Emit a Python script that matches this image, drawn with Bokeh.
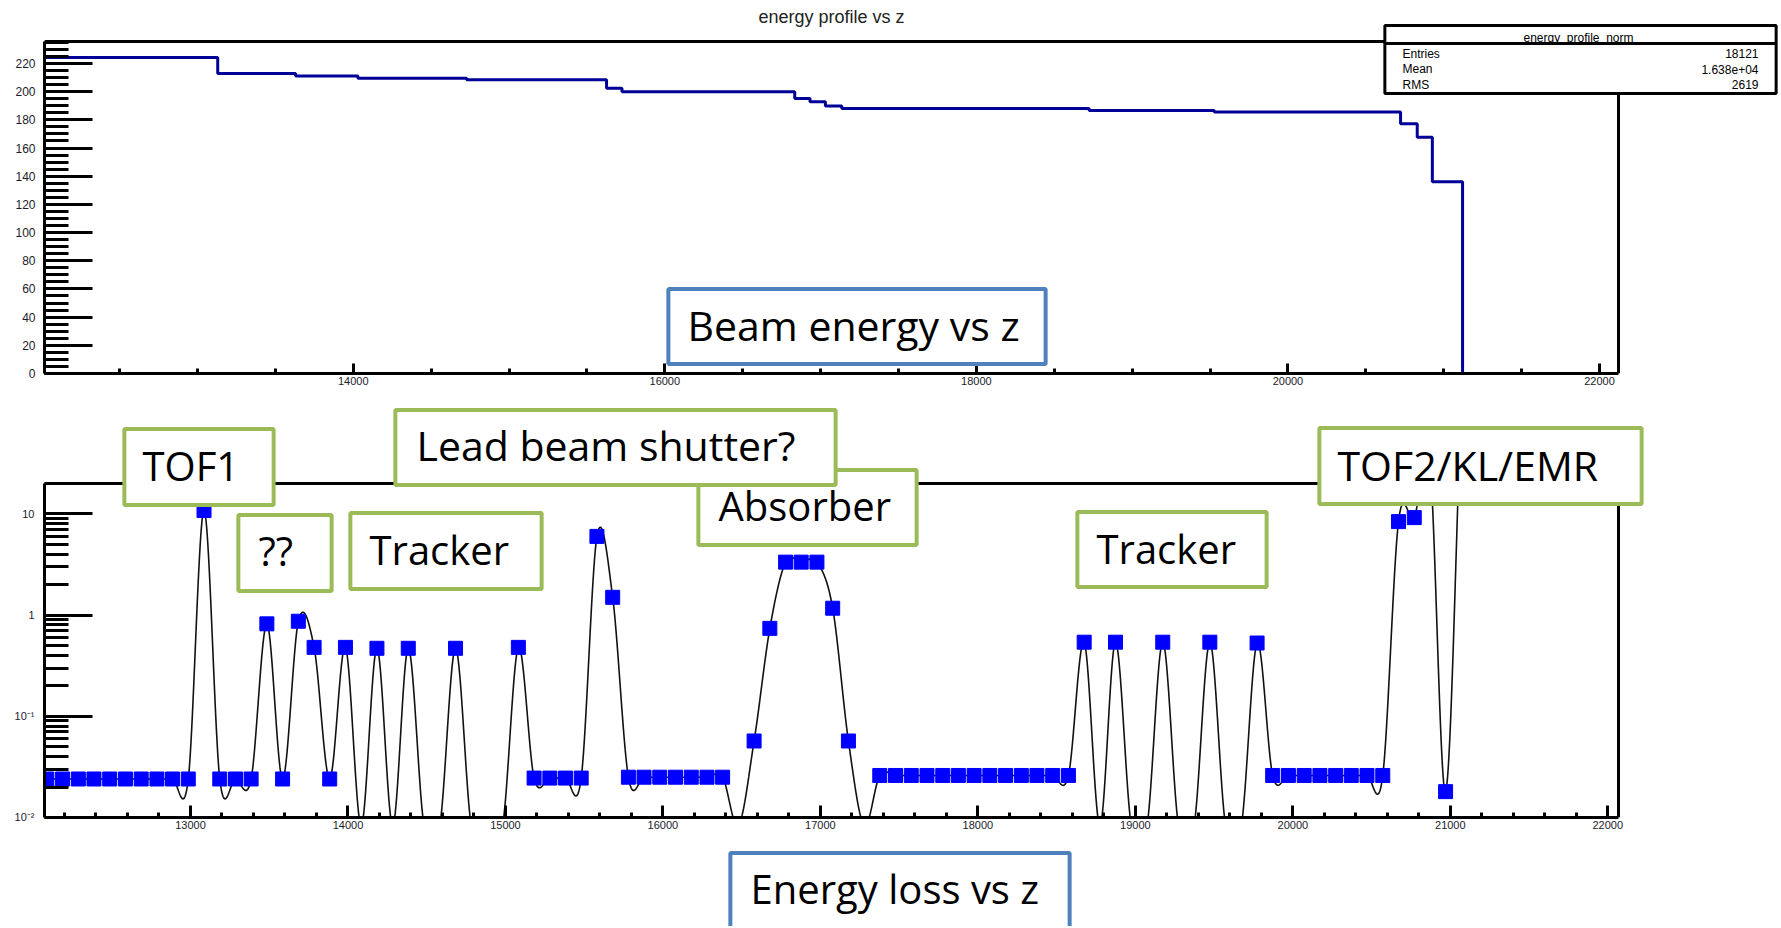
import numpy as np
from bokeh.plotting import figure
from bokeh.models import Range1d, SingleIntervalTicker, FixedTicker, Label
from bokeh.layouts import column
from bokeh.embed import file_html
from bokeh.resources import INLINE

# ---------------- data: top panel (energy profile histogram) ----------------
bin_edges = [12018, 13130, 13630, 14030, 14728, 15626, 15725, 16834, 16932, 17031,
             17136, 18724, 19527, 20723, 20830, 20927, 21121]
energy_levels = [224.3, 212.9, 211.2, 209.6, 208.4, 202.4, 200.0, 195.2, 192.9, 189.8,
                 188.1, 186.7, 185.5, 177.2, 167.7, 136.0, 0.0]
stats_names = ["Entries", "Mean", "RMS"]
stats_values = ["18121", "1.638e+04", "2619"]

# ---------------- data: bottom panel (energy loss per step) ----------------
z_points = [12088, 12188, 12288, 12387, 12487, 12587, 12687, 12787, 12886, 12986,
            13086, 13186, 13286, 13385, 13485, 13585, 13685, 13785, 13884, 13984,
            14084, 14184, 14284, 14383, 14483, 14583, 14683, 14783, 14882, 14982,
            15082, 15182, 15282, 15381, 15481, 15581, 15681, 15781, 15880, 15980,
            16080, 16180, 16280, 16379, 16479, 16579, 16679, 16779, 16878, 16978,
            17078, 17178, 17278, 17377, 17477, 17577, 17677, 17777, 17876, 17976,
            18076, 18176, 18276, 18375, 18475, 18575, 18675, 18775, 18874, 18974,
            19074, 19174, 19274, 19373, 19473, 19573, 19673, 19773, 19872, 19972,
            20072, 20172, 20272, 20371, 20471, 20571, 20671, 20771, 20870, 20970,
            21070]
de_values = [0.024, 0.024, 0.024, 0.024, 0.024, 0.024, 0.024, 0.024, 0.024, 0.024,
             10.8, 0.024, 0.024, 0.024, 0.82, 0.024, 0.87, 0.48, 0.024, 0.48,
             0, 0.47, 0, 0.47, 0, 0, 0.47, 0, 0, 0,
             0.48, 0.0245, 0.0245, 0.0245, 0.0245, 6.0, 1.5, 0.025, 0.025, 0.025,
             0.025, 0.025, 0.025, 0.025, 0, 0.057, 0.74, 3.34, 3.34, 3.34,
             1.17, 0.057, 0, 0.026, 0.026, 0.026, 0.026, 0.026, 0.026, 0.026,
             0.026, 0.026, 0.026, 0.026, 0.026, 0.026, 0.54, 0, 0.54, 0,
             0, 0.54, 0, 0, 0.54, 0, 0, 0.53, 0.026, 0.026,
             0.026, 0.026, 0.026, 0.026, 0.026, 0.026, 8.4, 9.2, 32.0, 0.018,
             135.0]
decade_ticks = [0.01, 0.1, 1, 10]
decade_labels = ["10\u207b\u00b2", "10\u207b\u00b9", "1", "10"]

# ---------------- layout constants (page pixels) ----------------
W = 1781
H_TOP, H_BOT, H_CAP = 400, 440, 86
FL = 44            # left edge of both plot frames
FR = 1618          # right edge of the drawn plot frames
TOP_T, TOP_B = 41, 373
BOT_T, BOT_B = 483, 817
TOP_X = (12018, 22122)
TOP_Y = (0.0, 235.6)
BOT_X = (12073, 22068)
BOT_Y = (0.00999, 20.0)
ROOT_FONT = "Liberation Sans"
BOX_FONT = "Open Sans"
GREEN = "#9BBB59"
BLUE = "#4F81BD"
TICK_COLOR = "#1b1b2b"


def style_axis(ax, major_in, minor_in, label_size, standoff, bounds):
    ax.bounds = bounds
    ax.axis_line_width = 3
    ax.axis_line_color = "black"
    ax.major_tick_in = major_in
    ax.major_tick_out = 0
    ax.minor_tick_in = minor_in
    ax.minor_tick_out = 0
    ax.major_tick_line_width = 3
    ax.minor_tick_line_width = 3
    ax.major_tick_line_color = "black"
    ax.minor_tick_line_color = "black"
    ax.major_label_text_font = ROOT_FONT
    ax.major_label_text_font_size = label_size
    ax.major_label_text_color = TICK_COLOR
    ax.major_label_standoff = standoff


def plain(p):
    p.grid.visible = False
    p.outline_line_color = None
    p.background_fill_color = "white"
    p.border_fill_color = "white"


def add_box(p, org, x0, x1, y0, y1, color, bw):
    fx, fb = org
    w = int(round(x1 - x0 - bw))
    h = int(round(y1 - y0 - bw))
    p.add_layout(Label(x=(x0 + x1) / 2 - fx, y=fb - (y0 + y1) / 2,
                       x_units="screen", y_units="screen", text=" ", text_font_size="1px",
                       text_align="center", text_baseline="middle",
                       background_fill_color="white", border_line_color=color,
                       border_line_width=bw,
                       padding=dict(left=w // 2, right=w - w // 2, top=h // 2, bottom=h - h // 2)))


def add_text(p, org, x, y, text, size, font, align="left", color="black"):
    fx, fb = org
    k = 0.42 if font == BOX_FONT else 0.33
    p.add_layout(Label(x=x - fx, y=fb - y + k * size, x_units="screen", y_units="screen",
                       text=text, text_font=font, text_font_size=f"{size}px", text_align=align,
                       text_baseline="alphabetic", text_color=color))


# ---------------- top figure ----------------
tpx = (FR - FL) / (TOP_X[1] - TOP_X[0])
tpy = (TOP_B - TOP_T) / (TOP_Y[1] - TOP_Y[0])
top_border_top = 2
top = figure(width=W, height=H_TOP, output_backend="svg", toolbar_location=None,
             x_range=Range1d(TOP_X[0], TOP_X[0] + (W - FL) / tpx),
             y_range=Range1d(TOP_Y[0], TOP_Y[1] + (TOP_T - top_border_top) / tpy),
             min_border_left=FL, min_border_right=0, min_border_top=top_border_top,
             min_border_bottom=H_TOP - TOP_B)
plain(top)
top.below[0].ticker = SingleIntervalTicker(interval=2000, num_minor_ticks=4)
top.left[0].ticker = SingleIntervalTicker(interval=20, num_minor_ticks=4)
style_axis(top.below[0], 10, 5, "11px", 3, TOP_X)
style_axis(top.left[0], 48, 24, "12px", 9, TOP_Y)
# frame (top and right edges)
top.line([TOP_X[0], TOP_X[1], TOP_X[1]], [TOP_Y[1], TOP_Y[1], TOP_Y[0]],
         line_width=3, line_color="black")
top.step(bin_edges, energy_levels, mode="after", line_width=3, line_color="#000099")

TORG = (FL, TOP_B)
add_text(top, TORG, 831, 22, "energy profile vs z", 18, ROOT_FONT, align="center", color="#222222")
add_box(top, TORG, 1383, 1777, 24, 44, "black", 3)
add_text(top, TORG, 1578, 41, "energy_profile_norm", 12, ROOT_FONT, align="center")
add_box(top, TORG, 1383, 1777, 42, 94, "black", 3)
for i, (nm, vl) in enumerate(zip(stats_names, stats_values)):
    yb = 57 + i * 15.5
    add_text(top, TORG, 1402, yb, nm, 12, ROOT_FONT)
    add_text(top, TORG, 1758, yb, vl, 12, ROOT_FONT, align="right")
add_box(top, TORG, 666, 1047, 287, 365, BLUE, 4)
add_text(top, TORG, 687, 342, "Beam energy vs z", 41, BOX_FONT)

# ---------------- bottom figure ----------------
bpx = (FR - FL) / (BOT_X[1] - BOT_X[0])
ppd = (BOT_B - BOT_T) / (np.log10(BOT_Y[1]) - np.log10(BOT_Y[0]))
bot_top_page = H_TOP + 4
bot = figure(width=W, height=H_BOT, output_backend="svg", toolbar_location=None,
             x_range=Range1d(BOT_X[0], BOT_X[0] + (W - FL) / bpx),
             y_range=Range1d(BOT_Y[0], 10 ** (np.log10(BOT_Y[1]) + (BOT_T - bot_top_page) / ppd)),
             y_axis_type="log",
             min_border_left=FL, min_border_right=0, min_border_top=bot_top_page - H_TOP,
             min_border_bottom=H_TOP + H_BOT - BOT_B)
plain(bot)
bot.below[0].ticker = SingleIntervalTicker(interval=1000, num_minor_ticks=5)
minor_log = [d * m for d in decade_ticks for m in range(2, 10) if d * m <= BOT_Y[1]]
bot.left[0].ticker = FixedTicker(ticks=decade_ticks, minor_ticks=minor_log)
bot.left[0].major_label_overrides = {t: s for t, s in zip(decade_ticks, decade_labels)}
style_axis(bot.below[0], 12, 5, "11px", 3, BOT_X)
style_axis(bot.left[0], 48, 24, "11px", 10, (0.01, BOT_Y[1]))
bot.line([BOT_X[0], BOT_X[1], BOT_X[1]], [BOT_Y[1], BOT_Y[1], BOT_Y[0]],
         line_width=3, line_color="black")

# smooth curve through the points (Catmull-Rom in z / log10 space, as ROOT's "C" option)
zs = np.array(z_points, dtype=float)
vals = np.array(de_values, dtype=float)
ly = np.log10(np.where(vals > 0, vals, 10 ** -2.08))


def tangents(a):
    m = np.empty_like(a)
    m[1:-1] = (a[2:] - a[:-2]) / 2.0
    m[0] = a[1] - a[0]
    m[-1] = a[-1] - a[-2]
    return m


mz, my = tangents(zs), tangents(ly)
t = np.linspace(0, 1, 25)[:-1]
h00 = 2 * t**3 - 3 * t**2 + 1
h10 = t**3 - 2 * t**2 + t
h01 = -2 * t**3 + 3 * t**2
h11 = t**3 - t**2
cx, cy = [], []
for i in range(len(zs) - 1):
    cx.append(h00 * zs[i] + h10 * mz[i] + h01 * zs[i + 1] + h11 * mz[i + 1])
    cy.append(h00 * ly[i] + h10 * my[i] + h01 * ly[i + 1] + h11 * my[i + 1])
cx.append(np.array([zs[-1]]))
cy.append(np.array([ly[-1]]))
curve_x = np.concatenate(cx)
curve_y = np.minimum(10 ** np.concatenate(cy), BOT_Y[1])   # the pad clips at its top edge
bot.line(curve_x, curve_y, line_color="#111111", line_width=1.6)

mask = (vals > 0) & (vals <= BOT_Y[1])   # points off the pad are not drawn
bot.scatter(zs[mask], vals[mask], marker="square", size=14, fill_color="#0000FF",
            line_color="#0000FF")

BORG = (FL, BOT_B)
add_box(bot, BORG, 122, 275, 427, 506, GREEN, 4)
add_text(bot, BORG, 142, 482, "TOF1", 40, BOX_FONT)
add_box(bot, BORG, 236, 333, 513, 592, GREEN, 4)
add_text(bot, BORG, 258, 567, "??", 40, BOX_FONT)
add_box(bot, BORG, 348, 543, 511, 590, GREEN, 4)
add_text(bot, BORG, 369, 566, "Tracker", 40, BOX_FONT)
add_box(bot, BORG, 696, 918, 468, 546, GREEN, 4)
add_text(bot, BORG, 718, 522, "Absorber", 40, BOX_FONT)
add_box(bot, BORG, 393, 837, 408, 486, GREEN, 4)
add_text(bot, BORG, 416, 462, "Lead beam shutter?", 41, BOX_FONT)
add_box(bot, BORG, 1075, 1268, 510, 588, GREEN, 4)
add_text(bot, BORG, 1096, 565, "Tracker", 40, BOX_FONT)
add_box(bot, BORG, 1317, 1643, 426, 505, GREEN, 4)
add_text(bot, BORG, 1337, 482, "TOF2/KL/EMR", 41, BOX_FONT)

# ---------------- caption strip under the lower plot ----------------
cap = figure(width=W, height=H_CAP, output_backend="svg", toolbar_location=None,
             x_range=Range1d(0, W - FL), y_range=Range1d(0, H_CAP),
             x_axis_type=None, y_axis_type=None,
             min_border_left=FL, min_border_right=0, min_border_top=0, min_border_bottom=0)
plain(cap)
CAP_TOP = H_TOP + H_BOT
CORG = (FL, CAP_TOP + H_CAP)
add_box(cap, CORG, 728, 1071, 851, 935, BLUE, 4)
add_text(cap, CORG, 750, 905, "Energy loss vs z", 40, BOX_FONT)

layout = column(top, bot, cap, spacing=0)
open("out.html", "w").write(file_html(layout, INLINE))
